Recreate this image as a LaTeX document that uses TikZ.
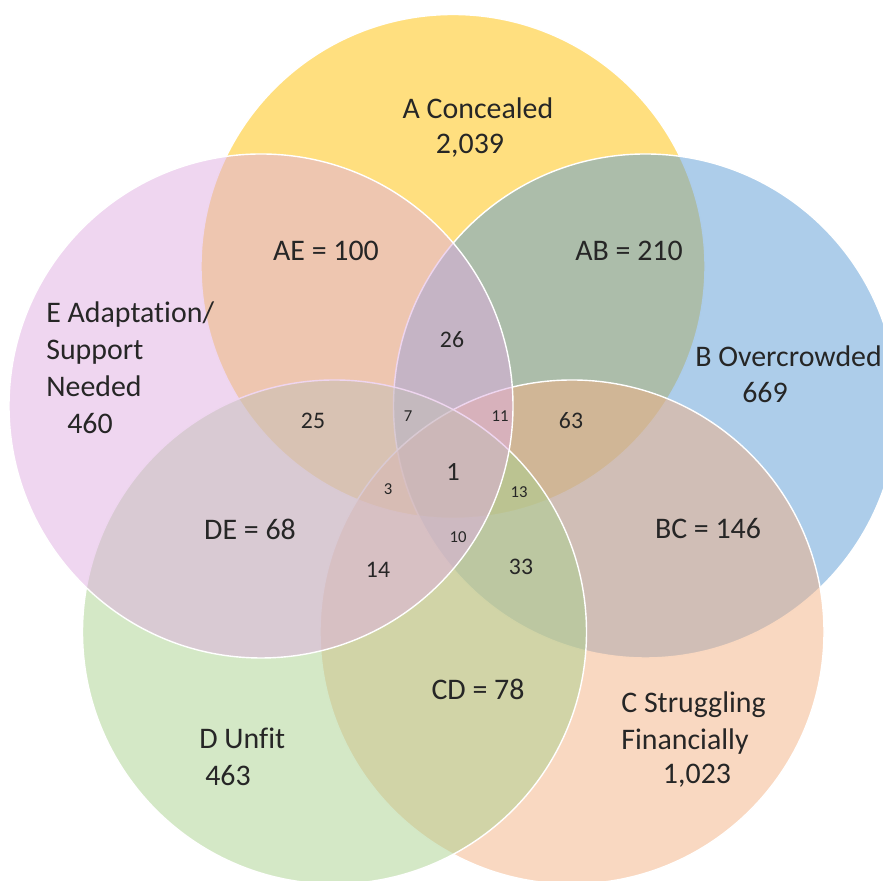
\documentclass[tikz,border=0pt]{standalone}
\usepackage{fontspec}
\setmainfont{Carlito}[Ligatures=NoCommon]
\usepackage{tikz}

\definecolor{colA}{HTML}{FFC000}
\definecolor{colB}{HTML}{5B9BD5}
\definecolor{colC}{HTML}{F4B183}
\definecolor{colD}{HTML}{A9D18E}
\definecolor{colE}{HTML}{DFADE1}

\begin{document}
\begin{tikzpicture}[auto,scale=1.0]
    \tikzstyle{venn}=[circle,draw=white,line width=0.8pt,fill opacity=0.5,minimum size=10.08cm,inner sep=0pt]
    \tikzstyle{biglab}=[inner sep=0pt,text=black!85,font=\fontsize{17}{21}\selectfont]
    \tikzstyle{midlab}=[inner sep=0pt,text=black!85,font=\fontsize{13.5}{16}\selectfont]
    \tikzstyle{smalllab}=[inner sep=0pt,text=black!85,font=\fontsize{9.5}{11}\selectfont]
    \useasboundingbox (0,0) rectangle (17.66,17.62);
    % the five sets
    \node (setA) at (9.06,12.29) [venn,fill=colA] {};
    \node (setB) at (12.91,9.50) [venn,fill=colB] {};
    \node (setC) at (11.44,4.98) [venn,fill=colC] {};
    \node (setD) at (6.69,4.98) [venn,fill=colD] {};
    \node (setE) at (5.22,9.50) [venn,fill=colE] {};
    % set names and totals
    \node (Alab) at (9.56,15.46) [biglab] {A Concealed};
    \node (Anum) at (9.40,14.70) [biglab] {2,039};
    \node (Blab) at (13.90,10.50) [biglab,anchor=west] {B Overcrowded};
    \node (Bnum) at (15.30,9.76) [biglab] {669};
    \node (Clab) at (12.42,3.16) [biglab,anchor=west,align=left] {C Struggling\\Financially};
    \node (Cnum) at (13.94,2.10) [biglab] {1,023};
    \node (Dlab) at (3.98,2.86) [biglab,anchor=west] {D Unfit};
    \node (Dnum) at (4.56,2.10) [biglab] {463};
    \node (Elab) at (0.92,10.64) [biglab,anchor=west,align=left] {E Adaptation/\\Support\\Needed};
    \node (Enum) at (1.80,9.14) [biglab] {460};
    % pairs
    \node (AE) at (6.52,12.60) [biglab] {AE = 100};
    \node (AB) at (12.58,12.60) [biglab] {AB = 210};
    \node (BC) at (14.16,7.04) [biglab] {BC = 146};
    \node (CD) at (9.56,3.84) [biglab] {CD = 78};
    \node (DE) at (5.00,7.04) [biglab] {DE = 68};
    % triples and more
    \node (ABE) at (9.04,10.82) [midlab] {26};
    \node (ADE) at (6.26,9.20) [midlab] {25};
    \node (ABC) at (11.42,9.20) [midlab] {63};
    \node (CDE) at (7.56,6.22) [midlab] {14};
    \node (BCD) at (10.42,6.28) [midlab] {33};
    \node (ABDE) at (8.16,9.30) [smalllab] {7};
    \node (ABCE) at (10.00,9.30) [smalllab] {11};
    \node (ACDE) at (7.76,7.84) [smalllab] {3};
    \node (ABCD) at (10.38,7.78) [smalllab] {13};
    \node (BCDE) at (9.16,6.88) [smalllab] {10};
    \node (ABCDE) at (9.06,8.18) [midlab,font=\fontsize{15}{18}\selectfont] {1};
\end{tikzpicture}
\end{document}
